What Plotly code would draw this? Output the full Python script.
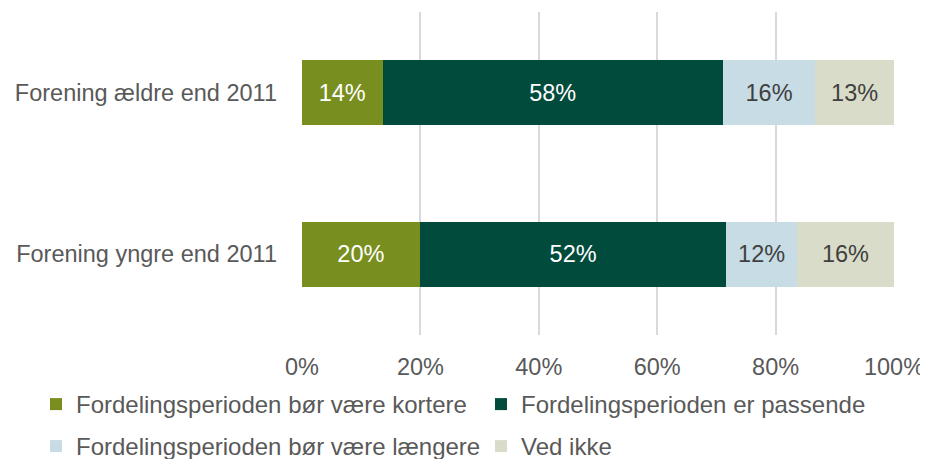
import plotly.graph_objects as go

categories = ["Forening yngre end 2011", "Forening ældre end 2011"]
series_names = [
    "Fordelingsperioden bør være kortere",
    "Fordelingsperioden er passende",
    "Fordelingsperioden bør være længere",
    "Ved ikke",
]
kortere = [19.9, 13.6]
passende = [51.8, 57.5]
laengere = [11.9, 15.6]
ved_ikke = [16.4, 13.3]
tick_vals = [0, 20, 40, 60, 80, 100]
tick_text = ["0%", "20%", "40%", "60%", "80%", "100%"]

colors = ["#788F1F", "#004B3C", "#C7DCE4", "#D9DCC8"]
text_colors = ["#FFFFFF", "#FFFFFF", "#404040", "#404040"]
FONT = "Liberation Sans, Arial, sans-serif"
FS = 23.5
FS_LEG = 24

# page body has an 8px margin in the browser; figure is sized to fit
W, H = 920, 451

legend_names = ["legend", "legend2", "legend3", "legend4"]
legend_pos = [(28, 374), (473, 374), (28, 416), (473, 416)]

fig = go.Figure()
for name, vals, c, tc, lg in zip(series_names, [kortere, passende, laengere, ved_ikke],
                                 colors, text_colors, legend_names):
    fig.add_trace(go.Bar(
        y=categories, x=vals, name=name, orientation="h",
        marker=dict(color=c, line=dict(width=0)),
        texttemplate="%{x:.0f}%", textposition="inside", insidetextanchor="middle",
        textfont=dict(color=tc, size=FS, family=FONT),
        width=0.4, legend=lg,
    ))

legend_cfg = {}
for lg, (px, py) in zip(legend_names, legend_pos):
    legend_cfg[lg] = dict(
        orientation="h", xref="container", yref="container",
        x=px / W, xanchor="left", y=1 - py / H, yanchor="top",
        font=dict(size=FS_LEG, color="#595959", family=FONT), itemwidth=30,
        bgcolor="rgba(0,0,0,0)",
    )

fig.update_layout(
    barmode="stack",
    width=W, height=H,
    margin=dict(l=294, r=34, t=4, b=124, autoexpand=False),
    plot_bgcolor="white", paper_bgcolor="white",
    font=dict(family=FONT, color="#595959", size=FS),
    xaxis=dict(range=[0, 100], tickvals=tick_vals, ticktext=tick_text,
               showgrid=True, gridcolor="#D9D9D9", gridwidth=1.5,
               zeroline=False, showline=False, ticks="", ticklen=0,
               ticklabelstandoff=15,
               tickfont=dict(size=FS, color="#595959"), automargin=False),
    yaxis=dict(showgrid=False, zeroline=False, showline=False, ticks="",
               ticklabelstandoff=24, automargin=False,
               tickfont=dict(size=FS, color="#595959")),
    showlegend=True,
    **legend_cfg,
)

fig.write_html("out.html")
